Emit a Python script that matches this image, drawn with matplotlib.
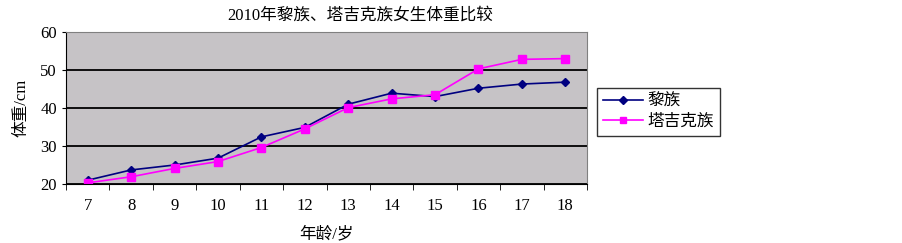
import numpy as np
import matplotlib
matplotlib.use('Agg')
import matplotlib.pyplot as plt

plt.rcParams['font.family'] = ['Liberation Serif', 'Noto Sans CJK SC']

ages = ['7', '8', '9', '10', '11', '12', '13', '14', '15', '16', '17', '18']
li = [21.0, 23.7, 25.0, 26.8, 32.4, 34.9, 41.0, 43.9, 43.0, 45.2, 46.3, 46.8]
tajik = [20.3, 21.9, 24.1, 25.9, 29.6, 34.5, 40.1, 42.4, 43.5, 50.3, 52.8, 53.0]

fig = plt.figure(figsize=(9.03, 2.43), dpi=100)
ax = fig.add_axes([66 / 903, (243 - 184) / 243, 521 / 903, 152 / 243])
ax.set_facecolor('#c6c3c6')

x = np.arange(len(ages))
ax.plot(x, li, color='#000080', marker='D', markersize=4.5, lw=1.2, label='黎族')
ax.plot(x, tajik, color='#ff00ff', marker='s', markersize=6, lw=1.2, label='塔吉克族')

ax.set_xlim(-0.5, len(ages) - 0.5)
ax.set_ylim(20, 60)
ax.set_yticks([20, 30, 40, 50, 60])
ax.yaxis.grid(True, color='black', lw=1.3)
ax.set_axisbelow(True)

ax.set_xticks(x)
ax.set_xticklabels(ages, fontsize=12)
ax.tick_params(axis='x', length=0, pad=10)
ax.set_xticks(np.arange(-0.5, len(ages), 1), minor=True)
ax.tick_params(axis='x', which='minor', length=4, direction='out', color='black')
ax.tick_params(axis='y', labelsize=12, length=3, color='black')

for s in ['top', 'right']:
    ax.spines[s].set_color('#808080')
for s in ['left', 'bottom']:
    ax.spines[s].set_color('black')

ax.set_title('2010年黎族、塔吉克族女生体重比较', fontsize=12, pad=9, x=0.564)
ax.set_xlabel('年龄/岁', fontsize=12, labelpad=9)
ax.set_ylabel('体重/cm', fontsize=12, labelpad=8)

leg = ax.legend(loc='upper left', bbox_to_anchor=(597 / 903, 1 - 88 / 243),
                bbox_transform=fig.transFigure, fontsize=12, frameon=True,
                fancybox=False, edgecolor='black', handlelength=2.4,
                borderpad=0.35, labelspacing=0.25, handletextpad=0.3,
                borderaxespad=0, markerscale=0.8)
leg.get_frame().set_linewidth(1)

fig.savefig('out.png', dpi=100)
